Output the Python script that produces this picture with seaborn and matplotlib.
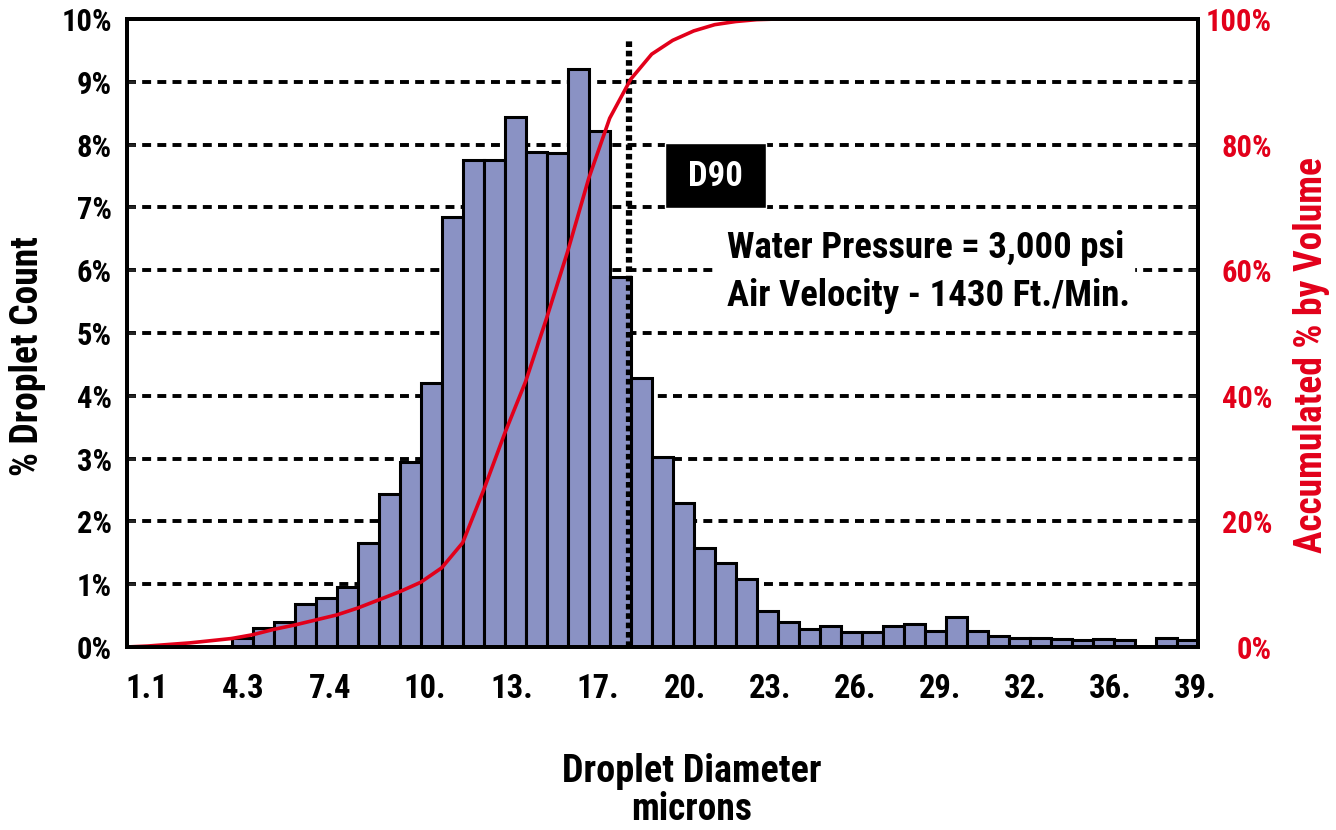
import numpy as np
import pandas as pd
import seaborn as sns
import matplotlib.pyplot as plt
from matplotlib import font_manager
from matplotlib.patches import Rectangle

# % droplet count per diameter bin (51 bins)
pct_count = [0, 0, 0, 0, 0, 0.15, 0.30, 0.40, 0.68, 0.78,
             0.95, 1.66, 2.43, 2.95, 4.20, 6.84, 7.75, 7.75, 8.44, 7.88,
             7.87, 9.20, 8.22, 5.89, 4.29, 3.02, 2.30, 1.57, 1.34, 1.09,
             0.58, 0.40, 0.29, 0.33, 0.24, 0.24, 0.34, 0.36, 0.25, 0.48,
             0.26, 0.18, 0.14, 0.14, 0.12, 0.11, 0.12, 0.11, 0, 0.15,
             0.11]

# accumulated % by volume at the bin edges (52 edges)
cum_volume = [0, 0.15, 0.4, 0.65, 1.0, 1.35, 1.95, 2.8, 3.5, 4.3,
              5.1, 6.2, 7.5, 8.8, 10.3, 12.6, 16.6, 25.0, 34.0, 42.3,
              52.4, 63.0, 74.6, 84.2, 90.4, 94.4, 96.6, 98.1, 99.1, 99.6,
              99.9, 100] + [100] * 20

x_tick_text = ["1.1", "4.3", "7.4", "10.", "13.", "17.", "20.", "23.",
               "26.", "29.", "32.", "36.", "39."]
x_tick_pos = [0.47, 5.04, 9.18, 13.7, 17.85, 21.95, 26.09, 30.13,
              34.18, 38.23, 42.28, 46.32, 50.37]

BAR = "#8a92c4"
RED = "#e2001a"

sns.set_theme(style="white")
names = {f.name for f in font_manager.fontManager.ttflist}
font = next((n for n in ["Liberation Sans Narrow", "Roboto Condensed", "DejaVu Sans"]
             if n in names), "DejaVu Sans")
plt.rcParams["font.family"] = [font, "DejaVu Sans"]
plt.rcParams["font.weight"] = "bold"

fig = plt.figure(figsize=(13.36, 8.30), dpi=100)
ax = fig.add_axes([0.0948, 0.2205, 0.8017, 0.7566])

df = pd.DataFrame({"bin": np.arange(len(pct_count)), "pct": pct_count})
sns.barplot(data=df, x="bin", y="pct", color=BAR, saturation=1, width=1.0,
            edgecolor="black", linewidth=2.2, ax=ax, zorder=2)

ax.set_xlim(-0.5, len(pct_count) - 0.5)
ax.set_ylim(0, 10)
ax.set_yticks(range(11), [f"{v}%" for v in range(11)])
ax.set_xticks(x_tick_pos, x_tick_text)
ax.yaxis.grid(True, color="black", linewidth=2.8, linestyle=(0, (2.3, 1.6)))
ax.xaxis.grid(False)
ax.set_axisbelow(True)
ax.tick_params(axis="x", length=0, pad=19, labelsize=23.5, labelcolor="black")
ax.tick_params(axis="y", direction="in", length=6, width=2, pad=10.5,
               labelsize=22, labelcolor="black")
for s in ax.spines.values():
    s.set_color("black")
    s.set_linewidth(2.8)
ax.set_xlabel("")
ax.set_ylabel("")

# cumulative curve on the right axis
ax2 = ax.twinx()
edges = np.arange(len(cum_volume)) - 0.5
d90 = np.interp(90, cum_volume, edges)
ax2.axvline(d90, ymin=0, ymax=0.97, color="black", linewidth=4.5,
            linestyle=(0, (0.9, 0.6)))
sns.lineplot(x=edges, y=cum_volume, ax=ax2, color=RED, linewidth=2.6, legend=False)
ax2.set_ylim(0, 100)
ax2.set_yticks(range(0, 101, 20), [f"{v}%" for v in range(0, 101, 20)])
ax2.set_yticks(range(10, 100, 20), minor=True)
ax2.tick_params(axis="y", which="both", direction="in", length=7, width=2,
                pad=53.5, labelsize=22, labelcolor=RED)
for lbl in ax2.get_yticklabels():
    lbl.set_horizontalalignment("right")
ax2.grid(False)
ax2.set_ylabel("")
for s in ax2.spines.values():
    s.set_color("black")
    s.set_linewidth(2.8)

# annotations
fig.add_artist(Rectangle((665 / 1336, 1 - 208 / 830), 101 / 1336, 65 / 830,
                         transform=fig.transFigure, facecolor="black", zorder=3))
fig.text(715.5 / 1336, 1 - 176 / 830, "D90", color="white", fontsize=25,
         ha="center", va="center", zorder=4)
fig.add_artist(Rectangle((718 / 1336, 1 - 318 / 830), 416 / 1336, 93 / 830,
                         transform=fig.transFigure, facecolor="white", zorder=3))
fig.text(727 / 1336, 1 - 248 / 830, "Water Pressure = 3,000 psi", fontsize=26.5,
         ha="left", va="center", color="black", zorder=4)
fig.text(727 / 1336, 1 - 296 / 830, "Air Velocity - 1430 Ft./Min.", fontsize=26.5,
         ha="left", va="center", color="black", zorder=4)

fig.text(28 / 1336, 1 - 356 / 830, "% Droplet Count", rotation=90, fontsize=27,
         ha="center", va="center", color="black")
fig.text(1312 / 1336, 1 - 355 / 830, "Accumulated % by Volume", rotation=90,
         fontsize=27, ha="center", va="center", color=RED)
fig.text(692 / 1336, 1 - 771 / 830, "Droplet Diameter", fontsize=27.5,
         ha="center", va="center", color="black")
fig.text(692 / 1336, 1 - 809 / 830, "microns", fontsize=27,
         ha="center", va="center", color="black")

fig.savefig("out.png", dpi=100)
